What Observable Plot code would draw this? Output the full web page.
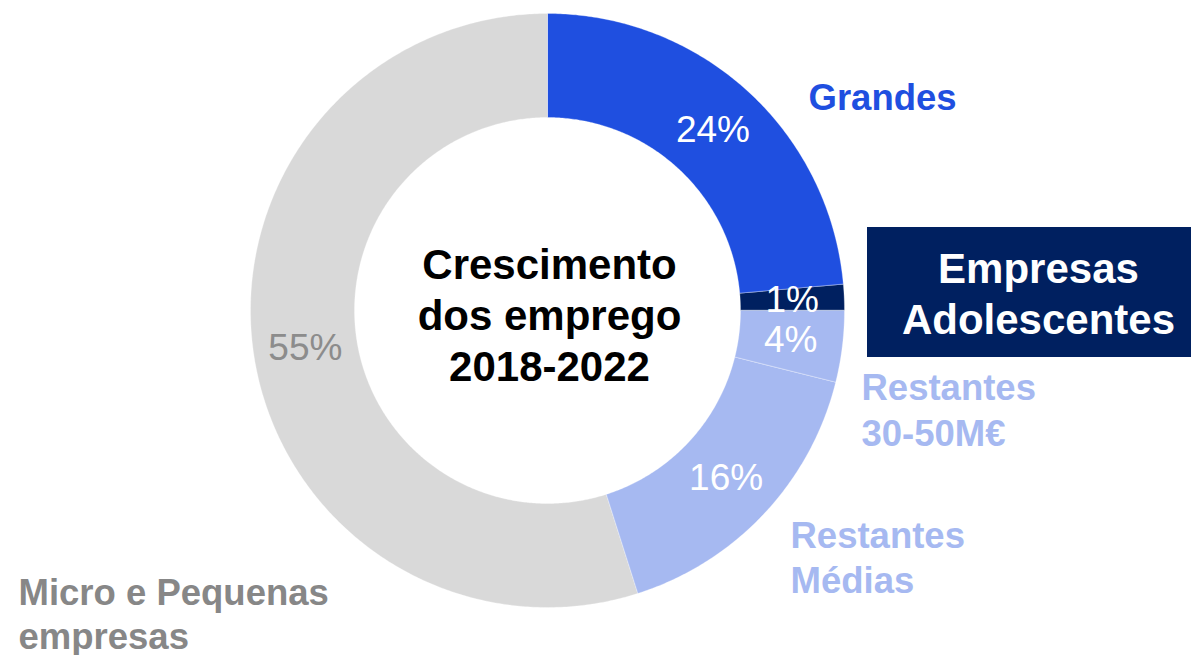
<!DOCTYPE html>
<html>
<head>
<meta charset="utf-8">
<script src="https://cdn.jsdelivr.net/npm/d3@7"></script>
<script src="https://cdn.jsdelivr.net/npm/@observablehq/plot@0.6"></script>
<style>
  html, body { margin: 0; padding: 0; background: #ffffff; }
  #chart svg { display: block; }
</style>
</head>
<body>
<div id="chart"></div>
<script>
// ---- Data ----
const categories = ["Grandes", "Empresas Adolescentes", "Restantes 30-50M€", "Restantes Médias", "Micro e Pequenas empresas"];
const values = [23.6, 1.4, 3.9, 16.2, 54.9];
const valueLabels = ["24%", "1%", "4%", "16%", "55%"];
const categoryLabels = ["Grandes", "Empresas\nAdolescentes", "Restantes\n30-50M€", "Restantes\nMédias", "Micro e Pequenas\nempresas"];
const centerTitle = "Crescimento\ndos emprego\n2018-2022";

// ---- Styles / layout ----
const sliceColors = ["#1f4fe0", "#002060", "#a6b9f1", "#a6b9f1", "#d9d9d9"];
const valueLabelColors = ["#ffffff", "#ffffff", "#ffffff", "#ffffff", "#8c8c8c"];
const W = 1191, H = 655;
const CX = 547, CY = 310, R_OUT = 297, R_IN = 193;
const FONT = "Liberation Sans, Arial, Helvetica, sans-serif";
// outside label layout (pixel positions of text anchor / last baseline)
const outLabels = [
  {i: 0, x: 808, y: 109, fill: "#1f4fe0", lh: 1.2},
  {i: 2, x: 861, y: 445, fill: "#a6b9f1", lh: 1.24},
  {i: 3, x: 790, y: 592, fill: "#a6b9f1", lh: 1.22},
  {i: 4, x: 18, y: 648, fill: "#878787", lh: 1.19}
];
const box = {x1: 867, x2: 1191, y1: 227, y2: 357, fill: "#002060"};

// ---- Geometry from data ----
const pie = d3.pie().sort(null).value(d => d.value).startAngle(0).endAngle(2 * Math.PI);
const table = categories.map((c, i) => ({key: c, value: values[i], label: valueLabels[i], color: sliceColors[i], labelColor: valueLabelColors[i]}));
const arcs = pie(table);

const pt = (a, r) => [CX + r * Math.sin(a), CY - r * Math.cos(a)];
const slicePts = [];
arcs.forEach(a => {
  const n = Math.max(2, Math.ceil((a.endAngle - a.startAngle) / (Math.PI / 360)));
  for (let k = 0; k <= n; k++) {
    const ang = a.startAngle + (a.endAngle - a.startAngle) * k / n;
    const [x, y] = pt(ang, R_OUT);
    slicePts.push({key: a.data.key, color: a.data.color, x, y});
  }
  for (let k = n; k >= 0; k--) {
    const ang = a.startAngle + (a.endAngle - a.startAngle) * k / n;
    const [x, y] = pt(ang, R_IN);
    slicePts.push({key: a.data.key, color: a.data.color, x, y});
  }
});

const centroids = arcs.map(a => {
  const m = (a.startAngle + a.endAngle) / 2;
  const [x, y] = pt(m, (R_OUT + R_IN) / 2);
  return {x, y, label: a.data.label, color: a.data.labelColor};
});

const outData = outLabels.map(o => ({...o, text: categoryLabels[o.i]}));

const chart = Plot.plot({
  width: W,
  height: H,
  margin: 0,
  x: {domain: [0, W], range: [0, W], axis: null},
  y: {domain: [0, H], range: [0, H], axis: null},
  color: {type: "identity"},
  style: {background: "#ffffff", fontFamily: FONT, overflow: "visible"},
  marks: [
    Plot.line(slicePts, {x: "x", y: "y", z: "key", fill: "color", stroke: "#ffffff", strokeWidth: 0.6, strokeOpacity: 0.5, curve: "linear-closed"}),
    Plot.text(centroids, {x: "x", y: "y", text: "label", fill: "color", fontSize: 37, fontFamily: FONT, textAnchor: "middle", lineAnchor: "middle"}),
    Plot.text([centerTitle], {x: CX + 2, y: 380, text: d => d, fill: "#000000", fontSize: 42, fontWeight: "bold", fontFamily: FONT, textAnchor: "middle", lineAnchor: "bottom", lineHeight: 1.21}),
    Plot.rect([box], {x1: "x1", x2: "x2", y1: "y1", y2: "y2", fill: box.fill}),
    Plot.text([categoryLabels[1]], {x: 1038, y: 333, text: d => d, fill: "#ffffff", fontSize: 42, fontWeight: "bold", fontFamily: FONT, textAnchor: "middle", lineAnchor: "bottom", lineHeight: 1.21}),
    ...outData.map(o => Plot.text([o], {x: "x", y: "y", text: "text", fill: o.fill, fontSize: 36.5, fontWeight: "bold", fontFamily: FONT, textAnchor: "start", lineAnchor: "bottom", lineHeight: o.lh}))
  ]
});
document.getElementById("chart").appendChild(chart);
</script>
</body>
</html>
